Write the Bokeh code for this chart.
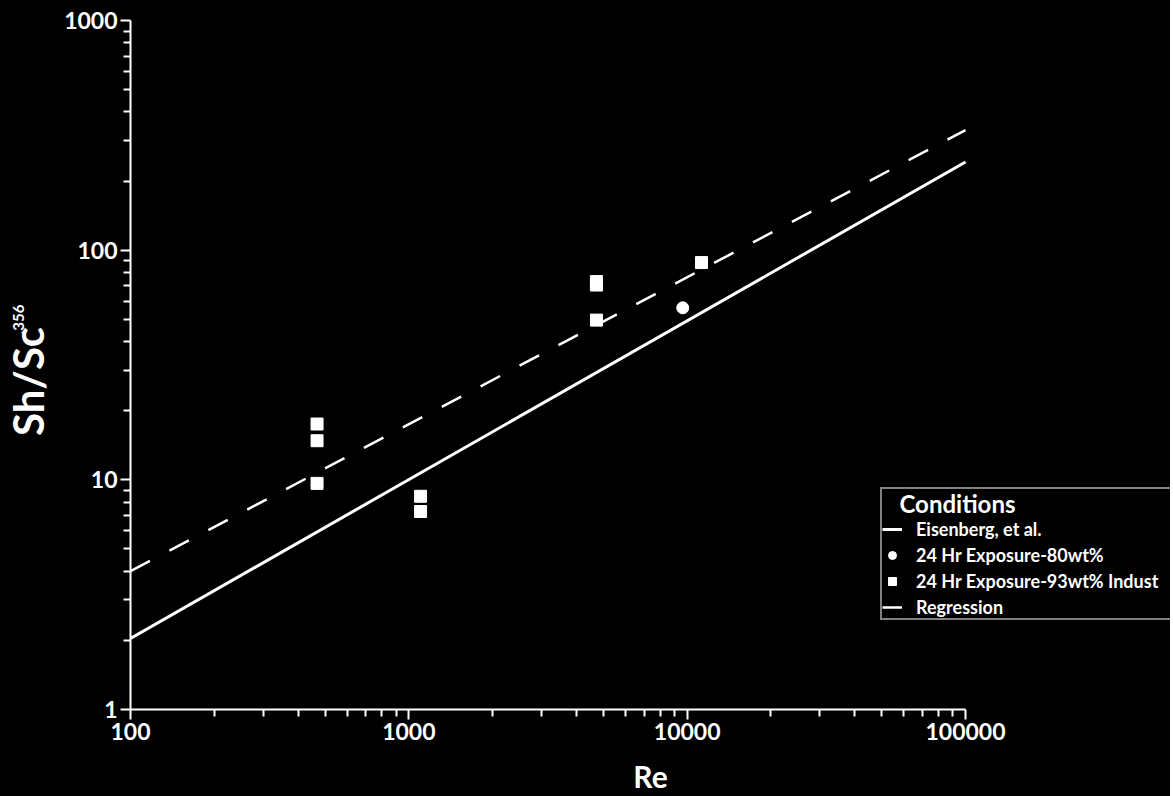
import math
from bokeh.plotting import figure
from bokeh.layouts import row
from bokeh.models import (Range1d, FixedTicker, PrintfTickFormatter, Legend,
                          LegendItem, Label)
from bokeh.embed import file_html
from bokeh.resources import INLINE

# ---- data ----
re_80 = [9640]
sh_80 = [56.1]
re_93 = [468, 468, 468, 1102, 1102, 4721, 4721, 4721, 11260]
sh_93 = [17.5, 14.8, 9.65, 8.48, 7.28, 73.0, 70.5, 49.6, 88.3]
eis_re = [100, 100000]
eis_sh = [2.04, 242]
reg_re = [100, 100000]
reg_sh = [4.0, 333]
x_ticks = [100, 1000, 10000, 100000]
y_ticks = [1, 10, 100, 1000]

FONT = "Lato"
H = 796
TOP, BOTTOM = 20, 86
LEFT_W = 60          # narrow panel that carries the y-axis title
FRAME_W = 1040       # plot frame reaches the right edge so the legend fits
DECADE_PX = 835 / 3  # 100 .. 100000 spans 835 px
x_end = 100 * 10 ** (FRAME_W / DECADE_PX)
BLACK_CSS = {"background-color": "black"}

p = figure(width=130 - LEFT_W + FRAME_W, height=H,
           x_axis_type="log", y_axis_type="log",
           x_range=Range1d(100, x_end), y_range=Range1d(1, 1000),
           output_backend="svg", toolbar_location=None,
           min_border_left=130 - LEFT_W, min_border_right=0,
           min_border_top=TOP, min_border_bottom=BOTTOM,
           background_fill_color="black", border_fill_color="black")
p.styles = BLACK_CSS
p.outline_line_color = None
p.grid.visible = False

x_minor = [m * 10 ** k for k in range(2, 5) for m in range(2, 10)]
y_minor = [m * 10 ** k for k in range(0, 3) for m in range(2, 10)]
p.xaxis.ticker = FixedTicker(ticks=x_ticks, minor_ticks=x_minor)
p.yaxis.ticker = FixedTicker(ticks=y_ticks, minor_ticks=y_minor)
p.xaxis.formatter = PrintfTickFormatter(format="%d")
p.yaxis.formatter = PrintfTickFormatter(format="%d")
p.xaxis.bounds = (100, 100000)

for ax in (p.xaxis, p.yaxis):
    ax.axis_line_color = "white"
    ax.axis_line_width = 2
    ax.major_tick_line_color = "white"
    ax.minor_tick_line_color = "white"
    ax.major_tick_line_width = 2
    ax.minor_tick_line_width = 2
    ax.major_tick_in = 0
    ax.minor_tick_in = 0
    ax.major_tick_out = 10
    ax.minor_tick_out = 7
    ax.major_label_text_color = "white"
    ax.major_label_text_font = FONT
    ax.major_label_text_font_style = "bold"
    ax.major_label_text_font_size = "23px"
    ax.major_label_standoff = 3
    ax.axis_label_text_color = "white"
    ax.axis_label_text_font = FONT
    ax.axis_label_text_font_style = "bold"

p.xaxis.axis_label = "Re"
p.xaxis.axis_label_text_font_size = "30px"
p.xaxis.axis_label_standoff = 15

r_eis = p.line(eis_re, eis_sh, line_color="white", line_width=3)
r_reg = p.line(reg_re, reg_sh, line_color="white", line_width=2.5,
               line_dash="22 22")
r_80 = p.scatter(re_80, sh_80, marker="circle", size=12, fill_color="white",
                 line_color="white")
r_93 = p.scatter(re_93, sh_93, marker="square", size=12, fill_color="white",
                 line_color="white")

legend = Legend(items=[
    LegendItem(label="Eisenberg, et al.", renderers=[r_eis]),
    LegendItem(label="24 Hr Exposure-80wt%", renderers=[r_80]),
    LegendItem(label="24 Hr Exposure-93wt% Indust", renderers=[r_93]),
    LegendItem(label="Regression", renderers=[r_reg]),
], location=(750, 89), title="\u00a0\u00a0\u00a0Conditions")
legend.title_text_color = "white"
legend.title_text_font = FONT
legend.title_text_font_style = "bold"
legend.title_text_font_size = "24px"
legend.title_standoff = 0
legend.label_text_color = "white"
legend.label_text_font = FONT
legend.label_text_font_style = "bold"
legend.label_text_font_size = "18px"
legend.label_height = 22
legend.label_width = 256
legend.glyph_height = 22
legend.glyph_width = 20
legend.label_standoff = 14
legend.spacing = 4
legend.padding = 0
legend.margin = 0
legend.background_fill_color = "black"
legend.background_fill_alpha = 1
legend.border_line_color = "white"
legend.border_line_width = 2
p.add_layout(legend, "center")

# ---- narrow left panel holding the y-axis title "Sh/Sc^.356" ----
lab = figure(width=LEFT_W, height=H, x_range=Range1d(0, 1),
             y_range=Range1d(0, 1), output_backend="svg",
             toolbar_location=None, x_axis_location=None,
             y_axis_location=None, min_border_left=0, min_border_right=0,
             min_border_top=TOP, min_border_bottom=BOTTOM,
             background_fill_color="black", border_fill_color="black")
lab.styles = BLACK_CSS
lab.grid.visible = False
lab.outline_line_color = None
frame_bottom = H - BOTTOM
lab.add_layout(Label(x=27, y=frame_bottom - 382, x_units="screen",
                     y_units="screen", text="Sh/Sc", angle=math.pi / 2,
                     text_align="center", text_baseline="middle",
                     text_color="white", text_font=FONT,
                     text_font_style="bold", text_font_size="42px"))
lab.add_layout(Label(x=18, y=frame_bottom - 320, x_units="screen",
                     y_units="screen", text=".356", angle=math.pi / 2,
                     text_align="center", text_baseline="middle",
                     text_color="white", text_font=FONT,
                     text_font_style="bold", text_font_size="15px"))

layout = row(lab, p, spacing=0)
layout.styles = BLACK_CSS
open("out.html", "w").write(file_html(layout, INLINE))
